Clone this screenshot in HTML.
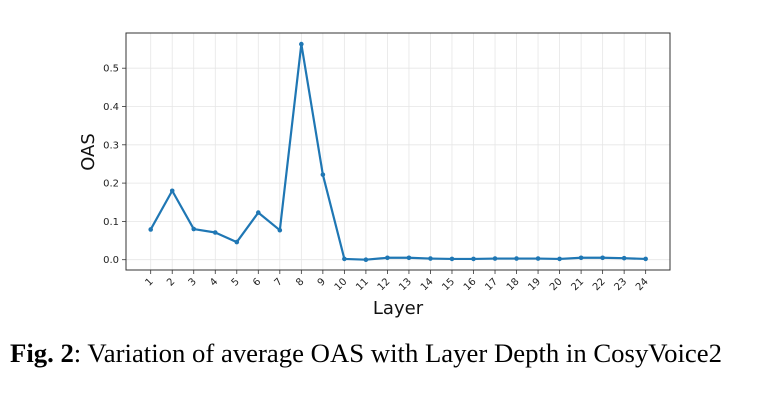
<!DOCTYPE html>
<html><head><meta charset="utf-8"><style>
body{margin:0;background:#fff;width:780px;height:402px;overflow:hidden}
svg{display:block}
</style></head><body>
<svg id="chart" width="780" height="402" xmlns="http://www.w3.org/2000/svg" font-family="'DejaVu Sans', sans-serif">
<text x="10" y="362" font-family="'Liberation Serif', serif" font-size="26" fill="#000" textLength="712" lengthAdjust="spacingAndGlyphs"><tspan font-weight="bold">Fig. 2</tspan>: Variation of average OAS with Layer Depth in CosyVoice2</text>
</svg>
<script>
const layers=[1,2,3,4,5,6,7,8,9,10,11,12,13,14,15,16,17,18,19,20,21,22,23,24];
const oas=[0.079,0.180,0.080,0.071,0.046,0.123,0.077,0.563,0.222,0.002,0.000,0.005,0.005,0.003,0.002,0.002,0.003,0.003,0.003,0.002,0.005,0.005,0.004,0.002];
const yTicks=[0.0,0.1,0.2,0.3,0.4,0.5];
const yTickLabels=["0.0","0.1","0.2","0.3","0.4","0.5"];
const NS="http://www.w3.org/2000/svg";
const svg=document.getElementById('chart');
const L=126,T=33,R=670,B=270;
const x=v=>150.7+(v-1)*21.52;
const y=v=>259.7-v*383;
function mk(tag,attrs,parent){const e=document.createElementNS(NS,tag);for(const k in attrs)e.setAttribute(k,attrs[k]);(parent||svg).appendChild(e);return e;}
const grid=mk('g',{});


layers.forEach(l=>{const g=mk('line',{x1:x(l),x2:x(l),y1:T,y2:B,stroke:'#e6e6e6','stroke-width':0.8},grid);

});
yTicks.forEach((t,i)=>{const g=mk('line',{x1:L,x2:R,y1:y(t),y2:y(t),stroke:'#e6e6e6','stroke-width':0.8},grid);


const tk=mk('line',{x1:L-4,x2:L,y1:y(t),y2:y(t),stroke:'#333','stroke-width':0.8});


const tx=mk('text',{x:L-7,y:y(t)+3.5,'text-anchor':'end','font-size':10,fill:'#222'});tx.textContent=yTickLabels[i];

});
layers.forEach(l=>{const tk=mk('line',{x1:x(l),x2:x(l),y1:B,y2:B+4,stroke:'#333','stroke-width':0.8});


const tx=mk('text',{x:x(l)+3,y:B+12,'text-anchor':'end','font-size':10,fill:'#222',transform:`rotate(-45 ${x(l)+3} ${B+12})`});tx.textContent=l;

});
const frame=mk('rect',{x:L,y:T,width:R-L,height:B-T,fill:'none',stroke:'#333','stroke-width':1});


const line=mk('polyline',{points:layers.map((l,i)=>x(l)+','+y(oas[i])).join(' '),fill:'none',stroke:'#1f77b4','stroke-width':2.2,'stroke-linejoin':'round'});


layers.forEach((l,i)=>{const c=mk('circle',{cx:x(l),cy:y(oas[i]),r:2.3,fill:'#1f77b4'});

});
const yl=mk('text',{x:94,y:152,'text-anchor':'middle','font-size':18,fill:'#111',transform:'rotate(-90 94 152)'});yl.textContent='OAS';


const xl=mk('text',{x:398,y:314,'text-anchor':'middle','font-size':18,fill:'#111'});xl.textContent='Layer';


</script>
</body></html>
